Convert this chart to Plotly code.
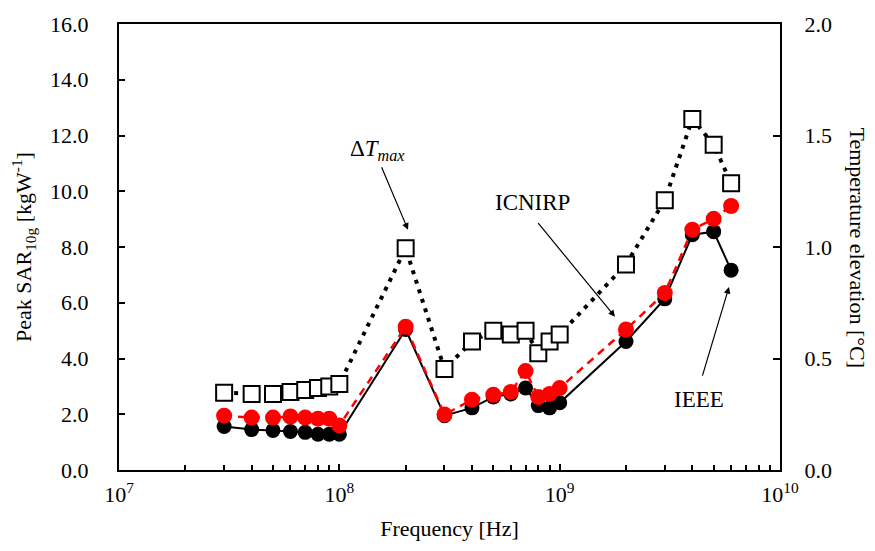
import plotly.graph_objects as go

freq = [3e7, 4e7, 5e7, 6e7, 7e7, 8e7, 9e7, 1e8, 2e8, 3e8, 4e8, 5e8, 6e8, 7e8, 8e8, 9e8,
        1e9, 2e9, 3e9, 4e9, 5e9, 6e9]
sar_ieee = [1.56, 1.45, 1.42, 1.38, 1.35, 1.28, 1.28, 1.28, 5.04, 1.95, 2.23, 2.62, 2.73, 2.94,
            2.31, 2.23, 2.41, 4.61, 6.14, 8.44, 8.55, 7.17]
sar_icnirp = [1.95, 1.88, 1.88, 1.92, 1.88, 1.84, 1.84, 1.60, 5.14, 1.99, 2.52, 2.70, 2.80, 3.55,
              2.62, 2.73, 2.94, 5.04, 6.35, 8.62, 9.01, 9.47]
dT_max = [0.346, 0.341, 0.341, 0.350, 0.359, 0.368, 0.375, 0.386, 0.994, 0.453, 0.576, 0.625,
          0.608, 0.625, 0.524, 0.576, 0.608, 0.922, 1.210, 1.574, 1.459, 1.286]

x_tickvals = [1e7, 1e8, 1e9, 1e10]
x_ticktext = ["10<sup>7</sup>", "10<sup>8</sup>", "10<sup>9</sup>", "10<sup>10</sup>"]
x_minor = [m * 10 ** e for e in (7, 8, 9) for m in range(2, 10)]
y_tickvals = [0, 2, 4, 6, 8, 10, 12, 14, 16]
y2_tickvals = [0, 0.5, 1.0, 1.5, 2.0]

FONT = "Liberation Serif, Times New Roman, serif"

fig = go.Figure()
fig.add_trace(go.Scatter(x=freq, y=sar_ieee, mode="lines+markers",
                         line=dict(color="black", width=2),
                         marker=dict(symbol="circle", size=15, color="black"),
                         showlegend=False))
fig.add_trace(go.Scatter(x=freq, y=sar_icnirp, mode="lines+markers",
                         line=dict(color="#ff0000", width=2.5, dash="8px,6px"),
                         marker=dict(symbol="circle", size=16, color="#ff0000"),
                         showlegend=False))
fig.add_trace(go.Scatter(x=freq, y=dT_max, mode="lines+markers", yaxis="y2",
                         line=dict(color="black", width=4, dash="4px,6px"),
                         marker=dict(symbol="square", size=16, color="white",
                                     line=dict(color="black", width=2)),
                         showlegend=False))

L, R, T, B = 119, 780, 19, 470
W, H = R - L, B - T


def px(xp, yp):
    return (xp - L) / W, (B - yp) / H


annots = []
for txt, (cx, cy) in [("Δ<i>T</i><sub><i>max</i></sub>", (377, 146)),
                      ("ICNIRP", (532, 199)),
                      ("IEEE", (699, 399))]:
    xx, yy = px(cx, cy)
    annots.append(dict(x=xx, y=yy, xref="paper", yref="paper", text=txt, showarrow=False,
                       xanchor="center", yanchor="middle",
                       font=dict(family=FONT, size=23, color="black")))
for (tx, ty), (hx, hy) in [((381, 163), (408, 227)),
                           ((537, 220), (615, 315)),
                           ((702, 375), (729, 285))]:
    xx, yy = px(hx, hy)
    annots.append(dict(x=xx, y=yy, xref="paper", yref="paper", text="", showarrow=True,
                       ax=tx - hx, ay=ty - hy, arrowhead=2, arrowsize=1.1, arrowwidth=1.2,
                       arrowcolor="black", standoff=0, startstandoff=0))
annots.append(dict(x=(858 - L) / W, y=(470 - 245) / H, xref="paper", yref="paper",
                   text="Temperature elevation [°C]", textangle=90, showarrow=False,
                   xanchor="center", yanchor="middle",
                   font=dict(family=FONT, size=22, color="black")))

fig.update_layout(
    width=875, height=551,
    margin=dict(l=L, r=875 - R, t=T, b=551 - B),
    paper_bgcolor="white", plot_bgcolor="white",
    font=dict(family=FONT, size=22, color="black"),
    xaxis=dict(type="log", range=[7, 10], tickvals=x_tickvals, ticktext=x_ticktext,
               ticks="inside", ticklen=6, tickwidth=1.5, tickcolor="black",
               minor=dict(tickvals=x_minor, ticks="inside", ticklen=5, tickwidth=1.5,
                          tickcolor="black", showgrid=False),
               showline=True, linecolor="black", linewidth=2, mirror=True,
               showgrid=False, zeroline=False, ticklabelstandoff=4,
               tickfont=dict(family=FONT, size=22, color="black"),
               title=dict(text="Frequency [Hz]", font=dict(family=FONT, size=22, color="black"),
                          standoff=14)),
    yaxis=dict(range=[0, 16], tickvals=y_tickvals, tickformat=".1f",
               ticks="inside", ticklen=6, tickwidth=1.5, tickcolor="black",
               showline=True, linecolor="black", linewidth=2,
               showgrid=False, zeroline=False, ticklabelstandoff=24,
               tickfont=dict(family=FONT, size=22, color="black"),
               title=dict(text="Peak SAR<sub>10g</sub> [kgW<sup>-1</sup>]",
                          font=dict(family=FONT, size=22, color="black"), standoff=12)),
    yaxis2=dict(range=[0, 2], tickvals=y2_tickvals, tickformat=".1f", overlaying="y",
                side="right", ticks="inside", ticklen=7, tickwidth=1.5, tickcolor="black",
                showline=True, linecolor="black", linewidth=2,
                showgrid=False, zeroline=False, ticklabelstandoff=18,
                tickfont=dict(family=FONT, size=22, color="black")),
    annotations=annots,
)

fig.write_html("out.html")
